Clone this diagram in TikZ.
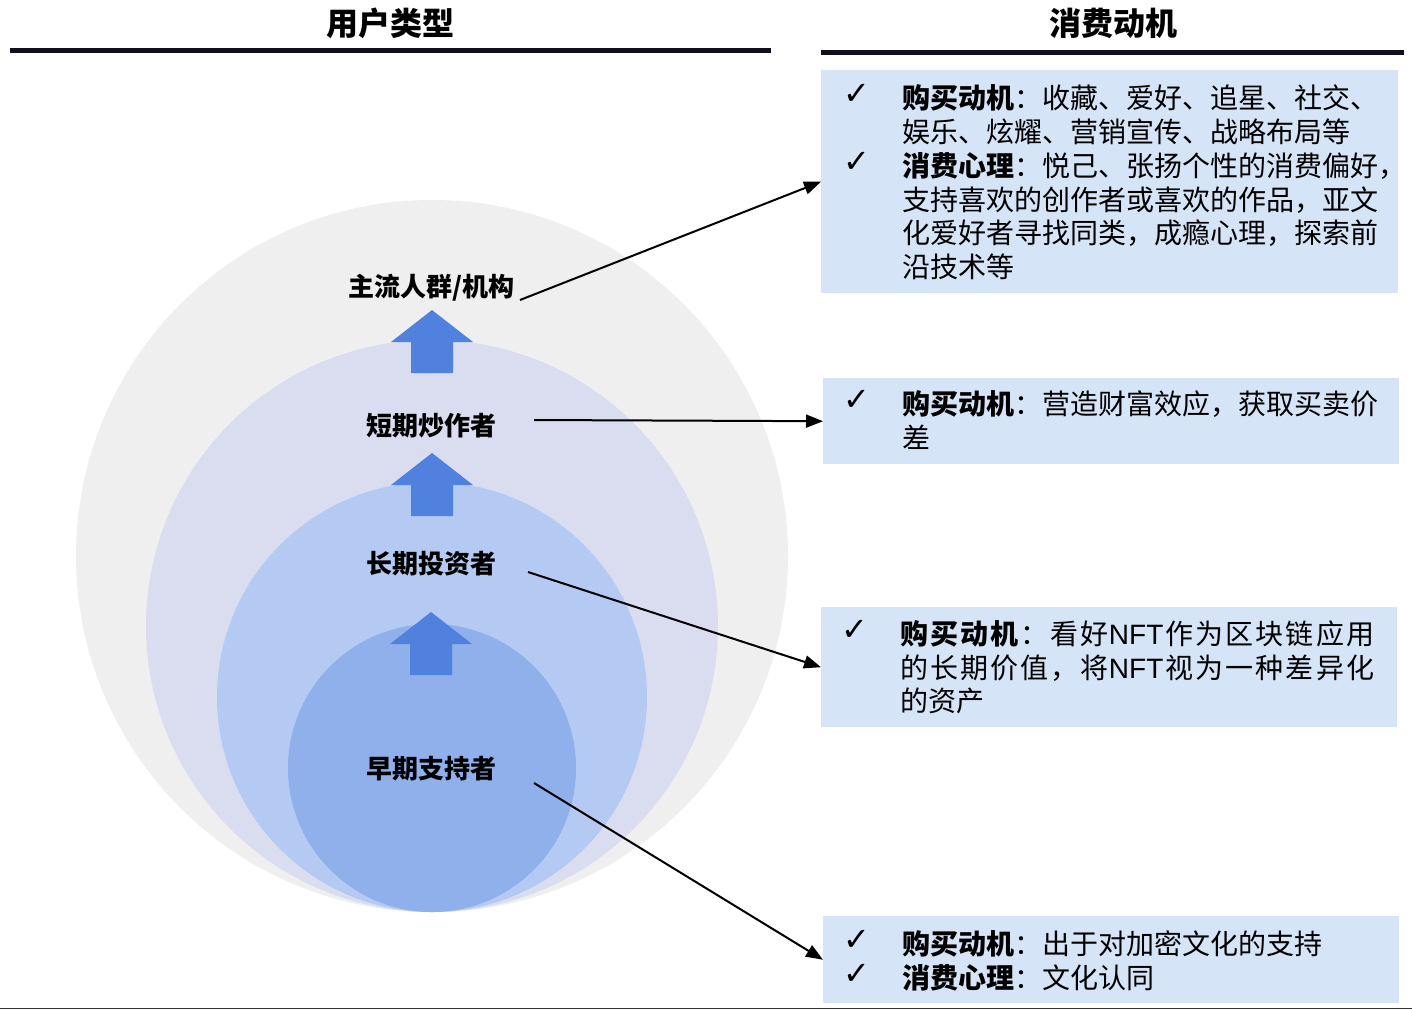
\documentclass[tikz,border=0pt]{standalone}
\usepackage{fontspec}
\setmainfont{Noto Sans CJK SC}
\newfontfamily\symf{DejaVu Sans}
\newfontfamily\latf{Liberation Sans}
\newfontfamily\widecjk{Noto Sans CJK SC}[LetterSpace=7.6]
\usetikzlibrary{arrows.meta}
\definecolor{ringA}{HTML}{EFEFEF}
\definecolor{ringB}{HTML}{DADDF0}
\definecolor{ringC}{HTML}{B4CAF2}
\definecolor{ringD}{HTML}{8FB0EB}
\definecolor{upblue}{HTML}{5081DF}
\definecolor{boxblue}{HTML}{D6E4F7}
\definecolor{rulecol}{HTML}{10101C}
\newcommand\myuparrow[2]{%
  \fill[upblue] (#1,#2) -- ++(41,32) -- ++(-20,0) -- ++(0,31) -- ++(-42,0) -- ++(0,-31) -- ++(-20,0) -- cycle;}
\newcommand\ck{\raisebox{4pt}{\symf\fontsize{32}{33}\selectfont ✓}}
\newcommand\nft{{\latf NFT}\hspace{2pt}}
\begin{document}
\begin{tikzpicture}[x=1pt,y=-1pt,
  lbl/.style={font=\fontsize{26}{30}\selectfont\bfseries, inner sep=0pt},
  hdr/.style={font=\fontsize{32}{36}\selectfont\bfseries, inner sep=0pt},
  box/.style={fill=boxblue, inner sep=0pt, anchor=north west},
  txt/.style={font=\fontsize{28}{33}\selectfont, inner sep=0pt, anchor=north west, align=left},
  conn/.style={line width=2pt, black, -{Triangle[length=17pt,width=13pt]}},
  hrule/.style={line width=5pt, rulecol}
]
\useasboundingbox (0,0) rectangle (1412,1010);
\fill[white] (0,0) rectangle (1412,1010);

% headers
\node[hdr] (h1) at (390,23) {用户类型};
\node[hdr] (h2) at (1113,23) {消费动机};
\draw[hrule] (10,50.5) -- (771,50.5);
\draw[hrule] (821,52) -- (1404,52);

% nested circles
\fill[ringA] (432,556) circle[radius=356];
\fill[ringB] (432,626) circle[radius=286];
\fill[ringC] (432,697) circle[radius=215];
\fill[ringD] (432,768) circle[radius=144];

% up arrows
\myuparrow{432}{310}
\myuparrow{432}{453}
\myuparrow{431}{612}

% labels
\node[lbl] (u1) at (431,288) {主流人群/机构};
\node[lbl] (u2) at (431,426) {短期炒作者};
\node[lbl] (u3) at (431,564) {长期投资者};
\node[lbl] (u4) at (431,769) {早期支持者};

% boxes
\node[box, minimum width=577, minimum height=223] (b1) at (821,70) {};
\node[box, minimum width=576, minimum height=86] (b2) at (823,378) {};
\node[box, minimum width=576, minimum height=120] (b3) at (821,607) {};
\node[box, minimum width=576, minimum height=87] (b4) at (823,916) {};

% box texts
\node[txt] (t1) at (843,84.5) {\begin{tabular}{@{}p{59pt}@{}l@{}}
\ck & \textbf{购买动机}：收藏、爱好、追星、社交、\\
 & 娱乐、炫耀、营销宣传、战略布局等\\
\ck & \textbf{消费心理}：悦己、张扬个性的消费偏好，\\
 & 支持喜欢的创作者或喜欢的作品，亚文\\
 & 化爱好者寻找同类，成瘾心理，探索前\\
 & 沿技术等
\end{tabular}};
\node[txt] (t2) at (843,390.5) {\begin{tabular}{@{}p{59pt}@{}l@{}}
\ck & \textbf{购买动机}：营造财富效应，获取买卖价\\
 & 差
\end{tabular}};
\node[txt] (t3) at (841,620.5) {\begin{tabular}{@{}p{59pt}@{}l@{}}
\ck & {\widecjk\textbf{购买动机}：看好}\nft{\widecjk 作为区块链应用}\\
 & {\widecjk 的长期价值，将}\nft{\widecjk 视为一种差异化}\\
 & 的资产
\end{tabular}};
\node[txt] (t4) at (843,930.5) {\begin{tabular}{@{}p{59pt}@{}l@{}}
\ck & \textbf{购买动机}：出于对加密文化的支持\\
\ck & \textbf{消费心理}：文化认同
\end{tabular}};

% connectors
\coordinate (s1) at (520,300);
\coordinate (s2) at (534,420);
\coordinate (s3) at (528,572);
\coordinate (s4) at (534,783);
\draw[conn] (s1) -- (b1.west);
\draw[conn] (s2) -- (b2.west);
\draw[conn] (s3) -- (b3.west);
\draw[conn] (s4) -- (b4.west);

% bottom rule
\draw[line width=1.5pt, black!80] (0,1008.5) -- (1412,1008.5);
\end{tikzpicture}
\end{document}
